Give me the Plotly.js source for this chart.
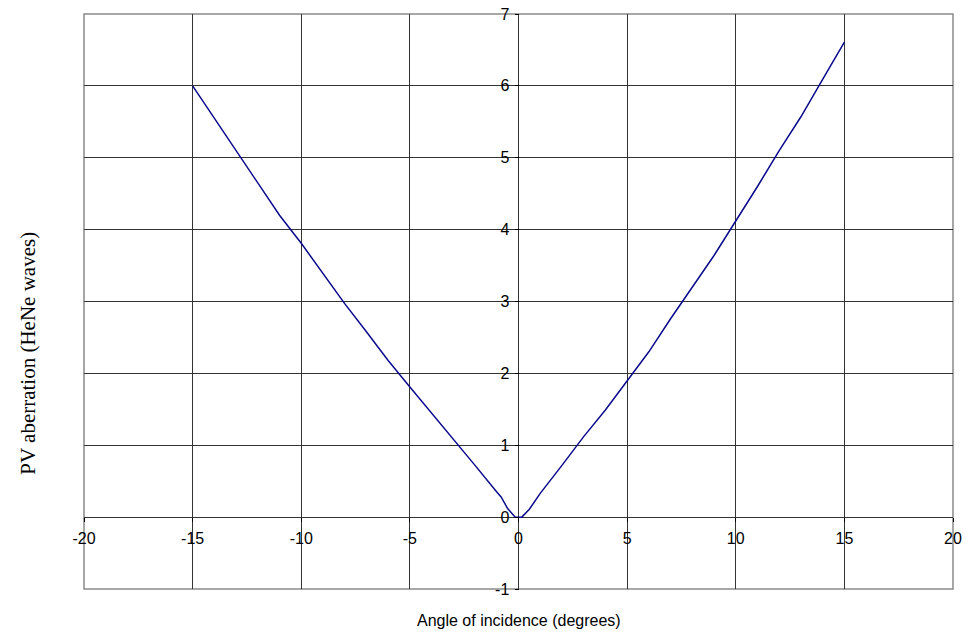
<!DOCTYPE html>
<html>
<head>
<meta charset="utf-8">
<script src="https://cdn.plot.ly/plotly-3.0.1.min.js"></script>
<style>html,body{margin:0;padding:0;background:#fff;}#chart{width:969px;height:633px;}</style>
</head>
<body>
<div id="chart"></div>
<script>
// Angle of incidence (degrees)
const angle = [-15, -14, -13, -12, -11, -10, -9, -8, -7, -6, -5, -4, -3, -2, -1, -0.8, -0.5, -0.15, 0, 0.15, 0.5, 0.85, 1, 2, 3, 4, 5, 6, 7, 8, 9, 10, 11, 12, 13, 14, 15];
// PV aberration (HeNe waves)
const pv = [6.0, 5.55, 5.10, 4.66, 4.20, 3.81, 3.39, 2.97, 2.58, 2.18, 1.81, 1.45, 1.09, 0.72, 0.35, 0.28, 0.12, 0.0, 0.0, 0.0, 0.11, 0.27, 0.33, 0.72, 1.12, 1.49, 1.89, 2.30, 2.76, 3.20, 3.64, 4.12, 4.60, 5.10, 5.57, 6.09, 6.61];
const xTicks = [-20, -15, -10, -5, 0, 5, 10, 15, 20];
const yTicks = [-1, 0, 1, 2, 3, 4, 5, 6, 7];
const xTitle = "Angle of incidence (degrees)";
const yTitle = "PV aberration (HeNe waves)";

const trace = {
  x: angle, y: pv, type: 'scatter', mode: 'lines',
  line: {color: '#0a0a8c', width: 1.5}, hoverinfo: 'skip', showlegend: false
};

const tickFont = {family: 'Liberation Sans, Arial, sans-serif', size: 16, color: '#000'};

const layout = {
  width: 969, height: 633,
  margin: {l: 84, r: 16, t: 14, b: 44, pad: 0},
  paper_bgcolor: '#fff', plot_bgcolor: '#fff',
  showlegend: false,
  xaxis: {
    range: [-20, 20], tickvals: xTicks, ticktext: xTicks.map(String),
    anchor: 'free', position: 0.125,
    showgrid: true, gridcolor: '#333333', gridwidth: 1,
    zeroline: false, showline: false,
    ticks: 'outside', ticklen: 4, tickcolor: '#000', ticklabelstandoff: 3,
    tickfont: tickFont, fixedrange: true
  },
  yaxis: {
    range: [-1, 7], tickvals: yTicks, ticktext: yTicks.map(String),
    anchor: 'free', position: 0.5,
    showgrid: true, gridcolor: '#333333', gridwidth: 1,
    zeroline: false, showline: false,
    ticks: 'outside', ticklen: 4, tickcolor: '#000', ticklabelstandoff: 2,
    tickfont: tickFont, fixedrange: true
  },
  shapes: [{
    type: 'rect', xref: 'paper', yref: 'paper', x0: 0, x1: 1, y0: 0, y1: 1,
    line: {color: '#8a8a8a', width: 1.5}, layer: 'below'
  }],
  annotations: [
    {text: xTitle, xref: 'paper', yref: 'paper', x: 0.5, y: -0.054,
     xanchor: 'center', yanchor: 'middle', showarrow: false,
     font: {family: 'Liberation Sans, Arial, sans-serif', size: 16, color: '#000'}},
    {text: yTitle, xref: 'paper', yref: 'paper', x: -0.064, y: 0.41,
     xanchor: 'center', yanchor: 'middle', showarrow: false, textangle: -90,
     font: {family: 'Liberation Serif, Times New Roman, serif', size: 21, color: '#000'}}
  ]
};

Plotly.newPlot('chart', [trace], layout, {staticPlot: true, displayModeBar: false});
</script>
</body>
</html>
